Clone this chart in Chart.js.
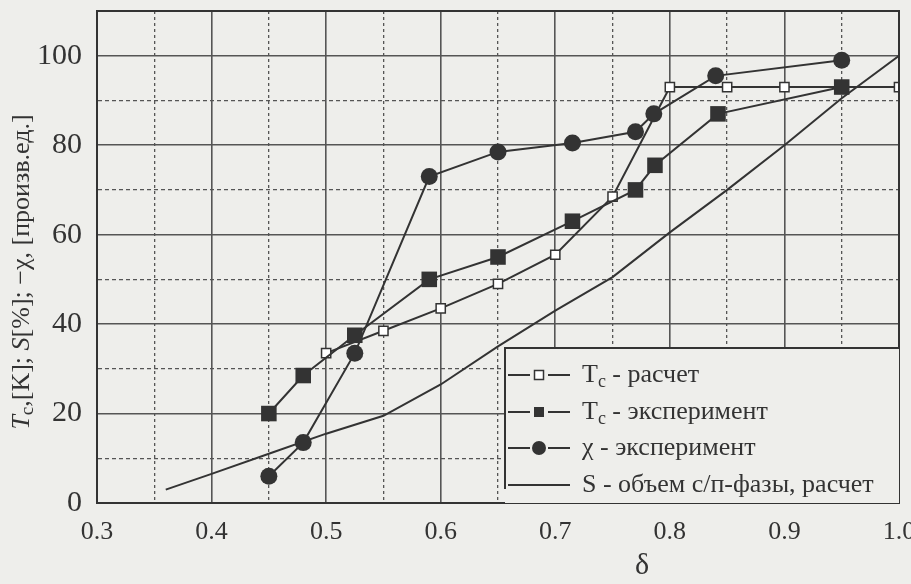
<!DOCTYPE html>
<html>
<head>
<meta charset="utf-8">
<script src="https://cdn.jsdelivr.net/npm/chart.js@4.4.0/dist/chart.umd.min.js"></script>
<style>
  html, body { margin: 0; padding: 0; background: #eeeeeb; }
</style>
</head>
<body>
<canvas id="chart" width="911" height="584"></canvas>
<script>
// values
const tcCalcX = [0.5, 0.55, 0.6, 0.65, 0.7, 0.75, 0.8, 0.85, 0.9, 0.95, 1.0];
const tcCalcY = [33.5, 38.5, 43.5, 49, 55.5, 68.5, 93, 93, 93, 93, 93];
const tcExpX = [0.45, 0.48, 0.525, 0.59, 0.65, 0.715, 0.77, 0.787, 0.842, 0.95];
const tcExpY = [20, 28.5, 37.5, 50, 55, 63, 70, 75.5, 87, 93];
const chiX = [0.45, 0.48, 0.525, 0.59, 0.65, 0.715, 0.77, 0.786, 0.84, 0.95];
const chiY = [6, 13.5, 33.5, 73, 78.5, 80.5, 83, 87, 95.5, 99];
const sX = [0.36, 0.4, 0.45, 0.5, 0.55, 0.6, 0.65, 0.7, 0.75, 0.8, 0.85, 0.9, 0.95, 1.0];
const sY = [3, 6.5, 11, 15.5, 19.5, 26.5, 35, 43, 50.5, 60.5, 70, 80, 90.5, 100];

const xTickLabels = ['0.3', '0.4', '0.5', '0.6', '0.7', '0.8', '0.9', '1.0'];
const yTickLabels = ['0', '20', '40', '60', '80', '100'];

const paper = '#eeeeeb';
const ink = '#333333';
const serif = '"Liberation Serif", "DejaVu Serif", serif';

function pts(xs, ys) {
  return xs.map((x, i) => ({ x: x, y: ys[i] }));
}

// draws text pieces one after another (for subscripts / italics)
function drawParts(ctx, parts, x, y) {
  let cx = x;
  parts.forEach(p => {
    ctx.font = p.font;
    ctx.fillText(p.t, cx, y + (p.dy || 0));
    cx += ctx.measureText(p.t).width;
  });
  return cx - x;
}
function partsWidth(ctx, parts) {
  let w = 0;
  parts.forEach(p => { ctx.font = p.font; w += ctx.measureText(p.t).width; });
  return w;
}

function marker(ctx, kind, x, y) {
  ctx.lineWidth = 1.5;
  ctx.strokeStyle = ink;
  if (kind === 'open') {
    ctx.fillStyle = '#ffffff';
    ctx.fillRect(x - 4.5, y - 4.5, 9, 9);
    ctx.strokeRect(x - 4.5, y - 4.5, 9, 9);
  } else if (kind === 'filled') {
    ctx.fillStyle = ink;
    ctx.fillRect(x - 5, y - 5, 10, 10);
  } else if (kind === 'circle') {
    ctx.fillStyle = ink;
    ctx.beginPath();
    ctx.arc(x, y, 7, 0, Math.PI * 2);
    ctx.fill();
  }
}

const decor = {
  id: 'decor',
  afterDatasetsDraw(chart) {
    const { ctx, chartArea: a } = chart;
    ctx.save();
    // frame
    ctx.strokeStyle = ink;
    ctx.lineWidth = 2;
    ctx.setLineDash([]);
    ctx.strokeRect(a.left, a.top, a.right - a.left, a.bottom - a.top);

    // legend box
    const lx = a.right - 394, ly = a.top + 337;
    ctx.fillStyle = paper;
    ctx.fillRect(lx, ly, a.right - lx, a.bottom - ly);
    ctx.beginPath();
    ctx.moveTo(lx, a.bottom - 14);
    ctx.lineTo(lx, ly);
    ctx.lineTo(a.right, ly);
    ctx.stroke();

    const rows = [
      { kind: 'open', parts: [['T', 0], ['c', 7, true], [' - расчет', 0]] },
      { kind: 'filled', parts: [['T', 0], ['c', 7, true], [' - эксперимент', 0]] },
      { kind: 'circle', parts: [['χ - эксперимент', 0]] },
      { kind: 'line', parts: [['S - объем с/п-фазы, расчет', 0]] }
    ];
    const rowY = [27, 64, 100, 137];
    rows.forEach((r, i) => {
      const y = ly + rowY[i];
      ctx.strokeStyle = ink;
      ctx.lineWidth = 2;
      ctx.beginPath();
      if (r.kind === 'line') {
        ctx.moveTo(lx + 3, y); ctx.lineTo(lx + 65, y);
      } else {
        ctx.moveTo(lx + 3, y); ctx.lineTo(lx + 25, y);
        ctx.moveTo(lx + 43, y); ctx.lineTo(lx + 65, y);
      }
      ctx.stroke();
      if (r.kind !== 'line') marker(ctx, r.kind, lx + 34, y);
      ctx.fillStyle = ink;
      ctx.textBaseline = 'middle';
      ctx.textAlign = 'left';
      drawParts(ctx, r.parts.map(p => ({
        t: p[0], dy: p[1], font: (p[2] ? '18px ' : '26px ') + serif
      })), lx + 77, y);
    });
    ctx.restore();
  },
  afterDraw(chart) {
    const { ctx, chartArea: a } = chart;
    ctx.save();
    ctx.fillStyle = ink;
    ctx.textBaseline = 'middle';
    // x title
    ctx.font = '30px ' + serif;
    ctx.textAlign = 'center';
    ctx.fillText('δ', (a.left + a.right) / 2 + 144, 566);
    // y title
    ctx.textAlign = 'left';
    const parts = [
      { t: 'T', font: 'italic 26px ' + serif },
      { t: 'c', font: '19px ' + serif, dy: 6 },
      { t: ',[K]; ', font: '26px ' + serif },
      { t: 'S', font: 'italic 26px ' + serif },
      { t: '[%]; −χ, [произв.ед.]', font: '26px ' + serif }
    ];
    const w = partsWidth(ctx, parts);
    ctx.translate(22, 272);
    ctx.rotate(-Math.PI / 2);
    drawParts(ctx, parts, -w / 2, 0);
    ctx.restore();
  }
};

const gridColor = '#555555';

new Chart(document.getElementById('chart'), {
  type: 'scatter',
  data: {
    datasets: [
      {
        label: 'χ - эксперимент',
        data: pts(chiX, chiY),
        showLine: true,
        borderColor: ink,
        backgroundColor: ink,
        borderWidth: 2,
        pointStyle: 'circle',
        pointRadius: 8.5,
        pointBorderWidth: 0,
        order: 0
      },
      {
        label: 'Tc - эксперимент',
        data: pts(tcExpX, tcExpY),
        showLine: true,
        borderColor: ink,
        backgroundColor: ink,
        borderWidth: 2,
        pointStyle: 'rect',
        pointRadius: 11,
        pointBorderWidth: 0,
        order: 1
      },
      {
        label: 'Tc - расчет',
        data: pts(tcCalcX, tcCalcY),
        showLine: true,
        borderColor: ink,
        backgroundColor: '#ffffff',
        borderWidth: 2,
        pointStyle: 'rect',
        pointRadius: 6.5,
        pointBorderWidth: 1.5,
        pointBorderColor: ink,
        order: 2
      },
      {
        label: 'S - объем с/п-фазы, расчет',
        data: pts(sX, sY),
        showLine: true,
        borderColor: ink,
        borderWidth: 2,
        pointRadius: 0,
        order: 3
      }
    ]
  },
  options: {
    responsive: false,
    animation: false,
    layout: { padding: { top: 6, right: 12, left: 0, bottom: 0 } },
    plugins: { legend: { display: false }, tooltip: { enabled: false } },
    scales: {
      x: {
        type: 'linear',
        min: 0.3,
        max: 1.0,
        afterFit(scale) {
          scale.height = 81;
          scale.paddingLeft = 0;
          scale.paddingRight = 0;
        },
        ticks: {
          stepSize: 0.05,
          autoSkip: false,
          maxRotation: 0,
          padding: 14,
          color: ink,
          font: { family: serif, size: 26 },
          callback(v) {
            const k = Math.round(v * 100);
            if (k % 10 !== 0) return '';
            return xTickLabels[Math.round((v - 0.3) * 10)];
          }
        },
        grid: {
          drawTicks: false,
          color: gridColor,
          lineWidth: c => (c.tick && Math.round(c.tick.value * 100) % 10 !== 0) ? 1.3 : 1.6
        },
        border: {
          display: true,
          color: ink,
          width: 2,
          dash: c => (c.tick && Math.round(c.tick.value * 100) % 10 !== 0) ? [3, 3] : []
        }
      },
      y: {
        min: 0,
        max: 110,
        afterFit(scale) {
          scale.width = 97;
          scale.paddingTop = 0;
          scale.paddingBottom = 0;
        },
        ticks: {
          stepSize: 10,
          autoSkip: false,
          padding: 15,
          color: ink,
          font: { family: serif, size: 30 },
          callback(v) {
            if (v % 20 !== 0 || v > 100) return '';
            return yTickLabels[v / 20];
          }
        },
        grid: {
          drawTicks: false,
          color: gridColor,
          lineWidth: c => (c.tick && c.tick.value % 20 !== 0) ? 1.3 : 1.6
        },
        border: {
          display: true,
          color: ink,
          width: 2,
          dash: c => (c.tick && c.tick.value % 20 !== 0) ? [4, 3] : []
        }
      }
    }
  },
  plugins: [decor]
});
</script>
</body>
</html>
